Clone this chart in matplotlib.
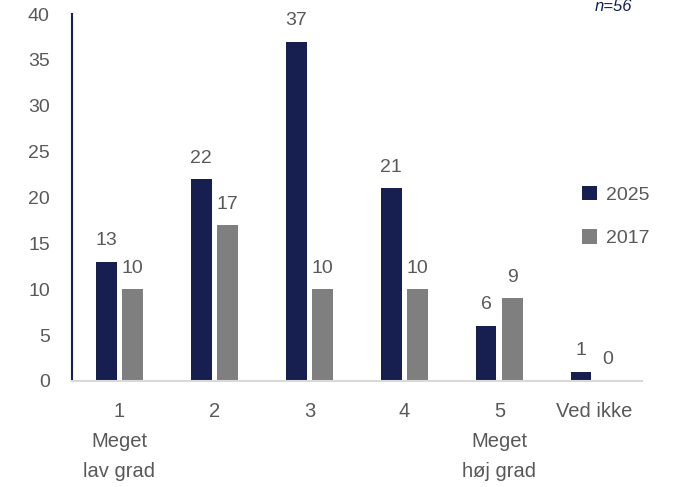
import matplotlib.pyplot as plt
import numpy as np

categories = ["1\nMeget\nlav grad", "2", "3", "4", "5\nMeget\nhøj grad", "Ved ikke"]
v2025 = [13, 22, 37, 21, 6, 1]
v2017 = [10, 17, 10, 10, 9, 0]

navy = "#161f4f"
grey = "#7f7f7f"
txt = "#595959"

plt.rcParams['font.family'] = ['Liberation Sans', 'DejaVu Sans']

fig = plt.figure(figsize=(6.82, 4.87), dpi=100)
ax = fig.add_axes([0.1056, 0.2177, 0.8354, 0.7533])

x = np.arange(len(categories))
w = 0.22
b1 = ax.bar(x - 0.14, v2025, w, color=navy, label="2025")
b2 = ax.bar(x + 0.14, v2017, w, color=grey, label="2017")

for bars in (b1, b2):
    for r in bars:
        ax.annotate(str(int(r.get_height())), (r.get_x() + r.get_width() / 2, r.get_height()),
                    xytext=(0, 9), textcoords="offset points", ha="center", va="bottom",
                    fontsize=14, color=txt)

ax.set_xlim(-0.5, 5.5)
ax.set_ylim(0, 40)
ax.set_yticks(range(0, 41, 5))
ax.set_xticks(x)
ax.set_xticklabels(categories)
ax.tick_params(axis="both", length=0, labelsize=14, labelcolor=txt)
ax.tick_params(axis="x", pad=15)
ax.tick_params(axis="y", pad=16)
for lbl in ax.get_xticklabels():
    lbl.set_linespacing(1.75)
    lbl.set_fontsize(14.5)

for s in ["top", "right"]:
    ax.spines[s].set_visible(False)
ax.spines["left"].set_color(navy)
ax.spines["left"].set_linewidth(1.5)
ax.spines["bottom"].set_color("#d9d9d9")
ax.spines["bottom"].set_linewidth(1.5)

leg = fig.legend(loc="center left", bbox_to_anchor=(0.828, 0.555), frameon=False,
                 fontsize=14, labelcolor=txt, handlelength=0.75, handleheight=0.75,
                 handletextpad=0.45, labelspacing=1.3)

fig.text(0.927, 0.986, "n=56", style="italic", color=navy, fontsize=12, ha="right", va="center")

fig.savefig("out.png", dpi=100)
